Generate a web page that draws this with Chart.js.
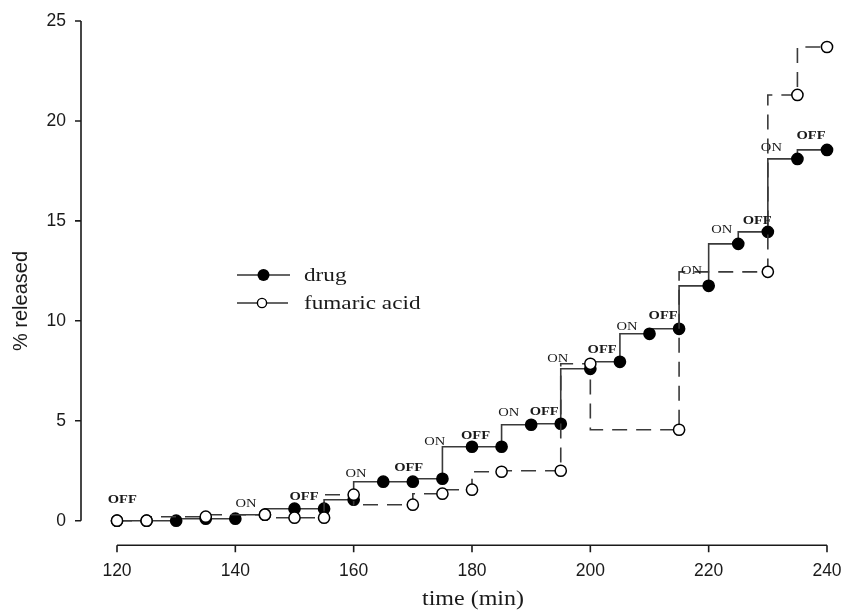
<!DOCTYPE html>
<html>
<head>
<meta charset="utf-8">
<script src="https://cdn.jsdelivr.net/npm/chart.js@4.4.1/dist/chart.umd.min.js"></script>
<style>
html,body{margin:0;padding:0;background:#ffffff;}
#wrap{width:844px;height:611px;position:relative;}
</style>
</head>
<body>
<div id="wrap"><canvas id="c" width="844" height="611"></canvas></div>
<script>
// ---------------- data ----------------
const seriesNames = ['drug', 'fumaric acid'];
const drugTime  = [120,125,130,135,140,145,150,155,160,165,170,175,180,185,190,195,200,205,210,215,220,225,230,235,240];
const drugValue = [0,0,0,0.1,0.1,0.3,0.6,0.6,1.05,1.95,1.95,2.1,3.7,3.7,4.8,4.85,7.6,7.95,9.35,9.6,11.75,13.85,14.45,18.1,18.55];
const acidTime  = [120,125,135,145,150,155,160,170,175,180,185,195,200,215,230,235,240];
const acidValue = [0,0,0.2,0.3,0.15,0.15,1.3,0.8,1.35,1.55,2.45,2.5,7.85,4.55,12.45,21.3,23.7];
const xTickValues = [120,140,160,180,200,220,240];
const yTickValues = [0,5,10,15,20,25];
const xTitle = 'time (min)';
const yTitle = '% released';
const annotText  = ['OFF','ON','OFF','ON','OFF','ON','OFF','ON','OFF','ON','OFF','ON','OFF','ON','ON','OFF','ON','OFF'];
const annotTime  = [120.9,141.8,151.6,160.4,169.3,173.7,180.6,186.2,192.2,194.5,202.0,206.2,212.3,217.1,222.2,228.2,230.6,237.3];
const annotValue = [1.09,0.89,1.24,2.39,2.69,3.99,4.29,5.44,5.49,8.17,8.62,9.75,10.30,12.55,14.61,15.06,18.71,19.31];

// ---------------- helpers ----------------
function pts(t, v) { return t.map((x, i) => ({x: x, y: v[i]})); }

function stretchText(ctx, text, x, y, font, sx, align, baseline) {
  ctx.save();
  ctx.translate(x, y);
  ctx.scale(sx, 1);
  ctx.font = font;
  ctx.textAlign = align;
  ctx.textBaseline = baseline;
  ctx.fillStyle = '#1a1a1a';
  ctx.fillText(text, 0, 0);
  ctx.restore();
}

const decorPlugin = {
  id: 'decor',
  beforeDatasetsDraw(chart) {
    const ctx = chart.ctx, xs = chart.scales.x, ys = chart.scales.y, ca = chart.chartArea;
    ctx.save();
    ctx.strokeStyle = '#1a1a1a';
    ctx.lineWidth = 1.6;
    ctx.lineCap = 'butt';
    // x axis (offset below the plot)
    const xAxisY = ca.bottom + 24.5;
    const xl = xs.getPixelForValue(xTickValues[0]);
    const xr = xs.getPixelForValue(xTickValues[xTickValues.length - 1]);
    ctx.beginPath();
    ctx.moveTo(xl, xAxisY); ctx.lineTo(xr, xAxisY);
    xTickValues.forEach(v => {
      const p = xs.getPixelForValue(v);
      ctx.moveTo(p, xAxisY); ctx.lineTo(p, xAxisY + 7);
    });
    ctx.stroke();
    // y axis (offset left of the plot)
    const yAxisX = ca.left - 36;
    const yb = ys.getPixelForValue(yTickValues[0]);
    const yt = ys.getPixelForValue(yTickValues[yTickValues.length - 1]);
    ctx.beginPath();
    ctx.moveTo(yAxisX, yb); ctx.lineTo(yAxisX, yt);
    yTickValues.forEach(v => {
      const p = ys.getPixelForValue(v);
      ctx.moveTo(yAxisX, p); ctx.lineTo(yAxisX - 6, p);
    });
    ctx.stroke();
    ctx.restore();

    // axis titles
    stretchText(ctx, xTitle, xs.getPixelForValue(180) + 1, 605, '20px "Liberation Serif"', 1.2, 'center', 'alphabetic');
    ctx.save();
    ctx.translate(21, 301);
    ctx.rotate(-Math.PI / 2);
    ctx.font = '20px "Liberation Sans"';
    ctx.textAlign = 'center';
    ctx.textBaseline = 'middle';
    ctx.fillStyle = '#1a1a1a';
    ctx.fillText(yTitle, 0, 0);
    ctx.restore();

    // legend
    const lx0 = 237, lx1 = 290, ly1 = 275, ly2 = 303;
    ctx.save();
    ctx.strokeStyle = '#333';
    ctx.lineWidth = 1.6;
    ctx.beginPath();
    ctx.moveTo(lx0, ly1); ctx.lineTo(lx1, ly1);
    ctx.moveTo(lx0, ly2); ctx.lineTo(lx1 - 2, ly2);
    ctx.stroke();
    ctx.fillStyle = '#000';
    ctx.beginPath(); ctx.arc(263.5, ly1, 6, 0, Math.PI * 2); ctx.fill();
    ctx.fillStyle = '#fff'; ctx.strokeStyle = '#000'; ctx.lineWidth = 1.4;
    ctx.beginPath(); ctx.arc(262, ly2, 4.6, 0, Math.PI * 2); ctx.fill(); ctx.stroke();
    ctx.restore();
    stretchText(ctx, seriesNames[0], 304, 281, '19px "Liberation Serif"', 1.22, 'left', 'alphabetic');
    stretchText(ctx, seriesNames[1], 304, 309, '19px "Liberation Serif"', 1.22, 'left', 'alphabetic');
  },
  afterDatasetsDraw(chart) {
    const ctx = chart.ctx, xs = chart.scales.x, ys = chart.scales.y;
    annotText.forEach((t, i) => {
      const x = xs.getPixelForValue(annotTime[i]);
      const y = ys.getPixelForValue(annotValue[i]);
      stretchText(ctx, t, x, y + 4.5, (t === 'OFF' ? 'bold ' : '') + '13px "Liberation Serif"', 1.12, 'center', 'alphabetic');
    });
  }
};

Chart.defaults.font.family = '"Liberation Sans", Arial, sans-serif';
Chart.defaults.color = '#1a1a1a';

new Chart(document.getElementById('c'), {
  type: 'line',
  data: {
    datasets: [
      {
        label: seriesNames[1],
        data: pts(acidTime, acidValue),
        stepped: 'after',
        borderColor: '#3a3a3a',
        borderWidth: 1.6,
        borderDash: [15, 9],
        pointRadius: 5.6,
        pointBorderWidth: 1.5,
        pointBackgroundColor: '#ffffff',
        pointBorderColor: '#000000',
        fill: false,
        clip: false
      },
      {
        label: seriesNames[0],
        data: pts(drugTime, drugValue),
        stepped: 'after',
        borderColor: '#3a3a3a',
        borderWidth: 1.6,
        pointRadius: 5.6,
        pointBorderWidth: 1.5,
        pointBackgroundColor: '#000000',
        pointBorderColor: '#000000',
        fill: false,
        clip: false
      }
    ]
  },
  options: {
    responsive: false,
    animation: false,
    events: [],
    layout: {padding: {left: 0, right: 17, top: 21, bottom: 0}},
    plugins: {legend: {display: false}, tooltip: {enabled: false}},
    scales: {
      x: {
        type: 'linear',
        min: xTickValues[0],
        max: xTickValues[xTickValues.length - 1],
        afterBuildTicks: s => { s.ticks = xTickValues.map(v => ({value: v})); },
        afterFit: s => { s.height = 90.3; s.paddingLeft = 0; s.paddingRight = 0; },
        grid: {display: false, drawTicks: false},
        border: {display: false},
        ticks: {autoSkip: false, maxRotation: 0, padding: 40, font: {size: 17.5}, color: '#1a1a1a'}
      },
      y: {
        type: 'linear',
        min: yTickValues[0],
        max: yTickValues[yTickValues.length - 1],
        afterBuildTicks: s => { s.ticks = yTickValues.map(v => ({value: v})); },
        afterFit: s => { s.width = 117; s.paddingTop = 0; s.paddingBottom = 0; },
        grid: {display: false, drawTicks: false},
        border: {display: false},
        ticks: {padding: 51, font: {size: 17.5}, color: '#1a1a1a'}
      }
    }
  },
  plugins: [decorPlugin]
});
</script>
</body>
</html>
